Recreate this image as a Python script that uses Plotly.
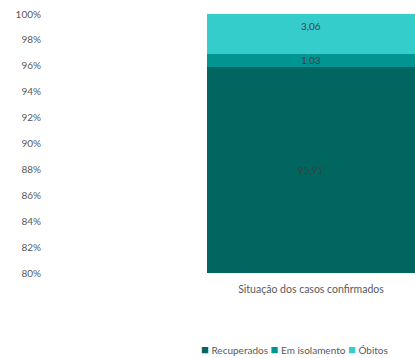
import plotly.graph_objects as go

# Situação dos casos confirmados (%)
category = ["Situação dos casos confirmados"]
series_names = ["Recuperados", "Em isolamento", "Óbitos"]
series_values = [[95.91], [1.03], [3.06]]
series_colors = ["#00665f", "#009590", "#35cccc"]
y_ticks = list(range(80, 101, 2))
y_tick_labels = [f"{t}%" for t in y_ticks]

Y_MIN, Y_MAX = 80, 100
FONT = "Lato"
TEXT_GREY = "#595959"

fig = go.Figure()
for name, vals, color in zip(series_names, series_values, series_colors):
    fig.add_trace(go.Bar(
        x=[0],
        y=vals,
        name=name,
        marker=dict(color=color, line=dict(width=0)),
        width=1.0,
        hoverinfo="skip",
        showlegend=False,
    ))

# value labels, centred on the visible part of each stacked segment
base = 0.0
for i, (name, vals) in enumerate(zip(series_names, series_values)):
    v = vals[0]
    lo, hi = max(base, Y_MIN), min(base + v, Y_MAX)
    fig.add_annotation(
        x=0, y=(lo + hi) / 2, xref="x", yref="y",
        text=f"{v:.2f}".replace(".", ","),
        showarrow=False,
        yshift=8 if i == 2 else 0,
        font=dict(family=FONT, size=10, color="#404040"),
    )
    base += v

# compact legend row below the category label
legend_text = " ".join(
    f"<span style='color:{c};font-size:13px'>■</span> {n}"
    for n, c in zip(series_names, series_colors)
)
fig.add_annotation(
    x=-0.08, xref="x", xanchor="center",
    y=-0.293, yref="paper", yanchor="middle",
    text=legend_text, showarrow=False,
    font=dict(family=FONT, size=10, color=TEXT_GREY),
)

fig.update_layout(
    barmode="stack",
    width=415,
    height=358,
    margin=dict(l=42, r=0, t=14, b=85, autoexpand=False),
    paper_bgcolor="white",
    plot_bgcolor="white",
    font=dict(family=FONT, color=TEXT_GREY, size=10),
    showlegend=False,
    xaxis=dict(
        range=[-0.5 - (207 - 42) / 208, 0.5],
        tickvals=[0],
        ticktext=category,
        showgrid=False,
        zeroline=False,
        showline=False,
        ticks="",
        ticklabelstandoff=8,
        tickfont=dict(family=FONT, size=10.5, color=TEXT_GREY),
        fixedrange=True,
    ),
    yaxis=dict(
        range=[Y_MIN, Y_MAX],
        tickvals=y_ticks,
        ticktext=y_tick_labels,
        showgrid=False,
        zeroline=False,
        showline=False,
        ticks="",
        tickfont=dict(family=FONT, size=10, color=TEXT_GREY),
        fixedrange=True,
    ),
)

fig.write_html("out.html")
